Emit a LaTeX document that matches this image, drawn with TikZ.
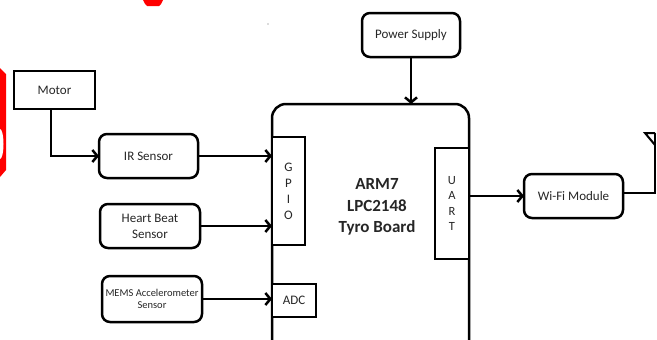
\documentclass[tikz,border=0pt]{standalone}
\usepackage{fontspec}
\setmainfont{Carlito}
\usetikzlibrary{arrows.meta,calc}
\begin{document}
\begin{tikzpicture}[x=1pt,y=-1pt,
  every node/.style={inner sep=0pt,outer sep=0pt,text=black!85},
  sq/.style={draw,line width=2.5pt,minimum width=#1},
  rbox/.style={draw,line width=2.5pt,rounded corners=8pt,minimum width=#1},
  conn/.style={line width=2.5pt},
  arr/.style={line width=2.5pt,-{Straight Barb[length=5pt,width=12pt,line width=2.5pt]}},
  lbl/.style={font=\fontsize{13}{16}\selectfont,align=center}]
\useasboundingbox (0,0) rectangle (657,340);
\clip (0,0) rectangle (657,340);
% red fragments at the edges
\fill[red] (0,68) -- (6,74) -- (6,170) -- (0,177) -- cycle;
\fill[white] (0,144) ellipse [x radius=3.5, y radius=15];
\fill[red] (143,0) -- (163,0) -- (161,4) -- (159,6) -- (147,6) -- (145,4) -- cycle;
\fill[black!60] (268,24) circle (0.7);
% main board
\draw[conn,rounded corners=14pt] (272,104) rectangle (469,370);
\node[sq=33pt,minimum height=108pt,fill=white,lbl] (gpio) at (288.5,191) {G\\P\\I\\O};
\node[sq=44pt,minimum height=33pt,fill=white,lbl] (adc) at (294,300.5) {ADC};
\node[sq=34pt,minimum height=111pt,fill=white,font=\fontsize{12.5}{15.5}\selectfont,align=center] (uart) at (452,203.5) {U\\A\\R\\T};
\node[font=\bfseries\fontsize{17}{21.5}\selectfont,align=center] (arm) at (377,207) {ARM7\\LPC2148\\Tyro Board};
\coordinate (boardtop) at (411,104);
% peripherals
\node[rbox=98pt,minimum height=44pt,lbl] (power) at (411,35) {Power Supply};
\node[sq=81pt,minimum height=38pt,lbl] (motor) at (54.5,90) {Motor};
\node[rbox=99pt,minimum height=44pt,lbl] (ir) at (148.5,156) {IR Sensor};
\node[rbox=100pt,minimum height=44pt,lbl] (hb) at (150,226) {Heart Beat\\Sensor};
\node[rbox=100pt,minimum height=46pt,font=\fontsize{10.5}{12}\selectfont,align=center] (mems) at (152,299) {MEMS Accelerometer\\Sensor};
\node[rbox=99pt,minimum height=44pt,lbl] (wifi) at (573.5,196) {Wi-Fi Module};
\coordinate (ant) at (655,133);
% connectors
\draw[arr] (power.south) -- (boardtop);
\draw[arr] ([xshift=-3.5pt]motor.south) |- (ir.west);
\draw[arr] (ir.east) -- (ir.east -| gpio.west);
\draw[arr] (hb.east) -- (hb.east -| gpio.west);
\draw[arr] (mems.east) -- (mems.east -| adc.west);
\draw[arr] (wifi.west -| uart.east) -- (wifi.west);
\draw[conn] ([yshift=3pt]wifi.east) -| (ant);
\draw[line width=2pt,line join=miter] (ant) -- (645,133) -- (655,145);
\end{tikzpicture}
\end{document}
